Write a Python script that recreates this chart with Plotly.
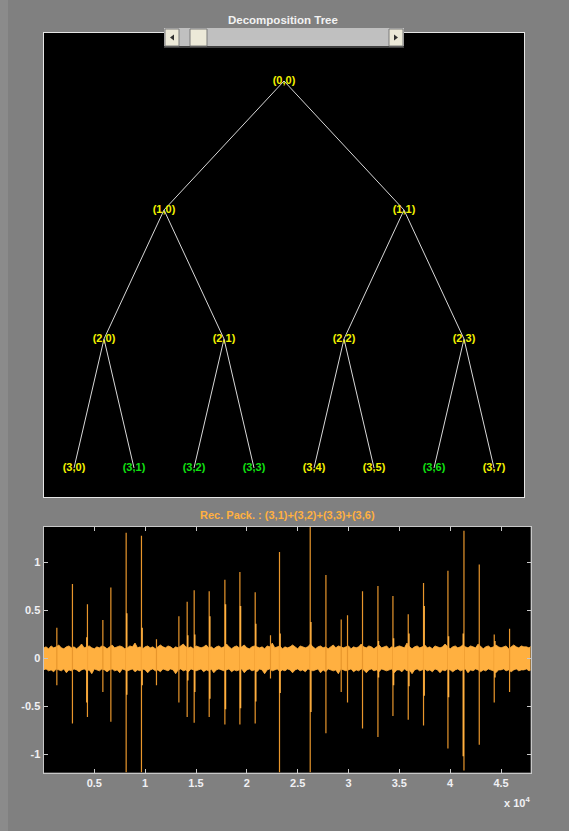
import plotly.graph_objects as go

W, H = 569, 831

# ---------------- data ----------------
# wavelet packet tree (depth, index)
node_depth = [0, 1, 1, 2, 2, 2, 2, 3, 3, 3, 3, 3, 3, 3, 3]
node_index = [0, 0, 1, 0, 1, 2, 3, 0, 1, 2, 3, 4, 5, 6, 7]
selected_nodes = [(3, 1), (3, 2), (3, 3), (3, 6)]
tree_depth = 3

# reconstructed signal: noise envelope (every 250 samples)
env_x = list(range(0, 48001, 250))
env_up = [0.11, 0.12, 0.10, 0.13, 0.11, 0.12, 0.14, 0.11, 0.10, 0.12,
          0.13, 0.11, 0.12, 0.10, 0.12, 0.15, 0.11, 0.12, 0.13, 0.11,
          0.10, 0.12, 0.11, 0.13, 0.12, 0.10, 0.12, 0.14, 0.11, 0.12,
          0.13, 0.12, 0.10, 0.11, 0.13, 0.12, 0.16, 0.11, 0.12, 0.10,
          0.12, 0.13, 0.11, 0.12, 0.10, 0.12, 0.14, 0.12, 0.11, 0.13,
          0.12, 0.10, 0.12, 0.11, 0.13, 0.15, 0.12, 0.11, 0.12, 0.10,
          0.13, 0.12, 0.11, 0.12, 0.14, 0.11, 0.12, 0.10, 0.12, 0.13,
          0.11, 0.12, 0.15, 0.12, 0.10, 0.12, 0.13, 0.11, 0.12, 0.14,
          0.11, 0.10, 0.12, 0.13, 0.12, 0.11, 0.12, 0.10, 0.13, 0.12,
          0.16, 0.11, 0.12, 0.13, 0.10, 0.12, 0.11, 0.12, 0.14, 0.12,
          0.10, 0.13, 0.12, 0.11, 0.12, 0.15, 0.12, 0.10, 0.12, 0.13,
          0.11, 0.12, 0.10, 0.12, 0.14, 0.11, 0.13, 0.12, 0.11, 0.12,
          0.13, 0.10, 0.12, 0.11, 0.12, 0.15, 0.12, 0.11, 0.13, 0.12,
          0.10, 0.12, 0.14, 0.11, 0.12, 0.13, 0.10, 0.12, 0.11, 0.12,
          0.13, 0.12, 0.11, 0.16, 0.12, 0.10, 0.12, 0.13, 0.11, 0.12,
          0.14, 0.11, 0.12, 0.10, 0.13, 0.12, 0.11, 0.12, 0.15, 0.12,
          0.10, 0.12, 0.13, 0.11, 0.12, 0.14, 0.12, 0.11, 0.13, 0.12,
          0.11, 0.15, 0.12, 0.10, 0.12, 0.13, 0.11, 0.12, 0.14, 0.12,
          0.11, 0.12, 0.13, 0.10, 0.12, 0.14, 0.12, 0.11, 0.13, 0.12,
          0.12, 0.11, 0.13]
env_lo = [-0.12, -0.11, -0.13, -0.12, -0.14, -0.11, -0.12, -0.13, -0.11, -0.15,
          -0.12, -0.13, -0.11, -0.12, -0.14, -0.12, -0.11, -0.13, -0.12, -0.16,
          -0.11, -0.12, -0.13, -0.11, -0.12, -0.14, -0.12, -0.11, -0.13, -0.12,
          -0.15, -0.11, -0.12, -0.13, -0.12, -0.11, -0.14, -0.12, -0.13, -0.11,
          -0.12, -0.15, -0.12, -0.11, -0.13, -0.12, -0.14, -0.11, -0.12, -0.13,
          -0.11, -0.12, -0.16, -0.12, -0.11, -0.13, -0.12, -0.14, -0.11, -0.12,
          -0.13, -0.12, -0.11, -0.14, -0.12, -0.13, -0.11, -0.15, -0.12, -0.11,
          -0.12, -0.13, -0.12, -0.11, -0.14, -0.12, -0.13, -0.12, -0.11, -0.15,
          -0.12, -0.11, -0.13, -0.12, -0.14, -0.11, -0.12, -0.16, -0.12, -0.11,
          -0.13, -0.12, -0.11, -0.14, -0.12, -0.13, -0.11, -0.12, -0.15, -0.12,
          -0.11, -0.13, -0.12, -0.14, -0.11, -0.12, -0.13, -0.12, -0.11, -0.15,
          -0.12, -0.14, -0.11, -0.12, -0.13, -0.12, -0.16, -0.11, -0.12, -0.13,
          -0.12, -0.11, -0.14, -0.12, -0.13, -0.11, -0.12, -0.15, -0.12, -0.11,
          -0.13, -0.12, -0.14, -0.11, -0.12, -0.13, -0.12, -0.11, -0.15, -0.12,
          -0.12, -0.14, -0.11, -0.13, -0.12, -0.16, -0.12, -0.11, -0.13, -0.12,
          -0.11, -0.13, -0.12, -0.14, -0.11, -0.12, -0.15, -0.12, -0.13, -0.11,
          -0.12, -0.14, -0.12, -0.11, -0.13, -0.12, -0.11, -0.15, -0.12, -0.13,
          -0.11, -0.12, -0.14, -0.12, -0.13, -0.11, -0.12, -0.13, -0.15, -0.12,
          -0.12, -0.11, -0.13, -0.12, -0.14, -0.12, -0.11, -0.13, -0.12, -0.12,
          -0.11, -0.13, -0.12]

# spikes: position, top value, bottom value
spike_x = [1313, 2848, 4324, 5839, 6626, 8131, 9636, 11112, 13316, 14132,
           14821, 16297, 17841, 19317, 20822, 22327, 23213, 26233, 27778, 29283,
           29903, 31378, 32894, 34369, 35874, 37379, 39779, 41355, 42860, 44334,
           45841]
spike_top = [0.32, 0.775, 0.565, 0.40, 0.74, 1.31, 1.28, 0.20, 0.44, 0.59,
             0.71, 0.70, 0.82, 0.90, 0.69, 0.24, 1.11, 1.37, 0.87, 0.405,
             0.45, 0.70, 0.754, 0.65, 0.46, 0.785, 0.915, 1.33, 0.98, 0.25,
             0.31]
spike_bot = [-0.28, -0.68, -0.61, -0.35, -0.66, -1.19, -1.19, -0.28, -0.46, -0.61,
             -0.67, -0.61, -0.69, -0.69, -0.68, -0.21, -1.19, -1.19, -0.78, -0.35,
             -0.46, -0.73, -0.82, -0.60, -0.64, -0.70, -0.94, -1.17, -0.90, -0.46,
             -0.35]
# shorter companion spikes next to the big ones
spike2_x = [4265, 8190, 9700, 14190, 14880, 16360, 17900, 19380, 20880, 23270,
            26300, 32950, 34430, 35940, 37440, 39840, 41290, 44400]
spike2_top = [0.22, 0.47, 0.32, 0.24, 0.25, 0.44, 0.565, 0.545, 0.36, 0.26,
              0.38, 0.18, 0.21, 0.26, 0.545, 0.23, 0.26, 0.18]
spike2_bot = [-0.46, -0.38, -0.28, -0.23, -0.35, -0.42, -0.53, -0.52, -0.45, -0.36,
              -0.56, -0.20, -0.28, -0.29, -0.39, -0.405, -1.02, -0.20]

x_tick_vals = [5000, 10000, 15000, 20000, 25000, 30000, 35000, 40000, 45000]
x_tick_text = ['0.5', '1', '1.5', '2', '2.5', '3', '3.5', '4', '4.5']
y_tick_vals = [-1, -0.5, 0, 0.5, 1]
y_tick_text = ['-1', '-0.5', '0', '0.5', '1']

tree_title = 'Decomposition Tree'
signal_title = 'Rec. Pack. : (3,1)+(3,2)+(3,3)+(3,6)'

# ---------------- helpers ----------------
def px(x):
    return x / W

def py(y):
    return 1 - y / H

FONT = 'Liberation Sans'
YELLOW = '#f2f200'
GREEN = '#12e012'
ORANGE = '#ffb040'

fig = go.Figure()

# ---------------- tree ----------------
def node_x(d, k):
    return (k + 0.5) * 2 ** (tree_depth - d)

ex, ey = [], []
for d, k in zip(node_depth, node_index):
    if d < tree_depth:
        for c in (2 * k, 2 * k + 1):
            ex += [node_x(d, k), node_x(d + 1, c), None]
            ey += [-d, -(d + 1), None]
fig.add_trace(go.Scatter(x=ex, y=ey, mode='lines', xaxis='x', yaxis='y',
                         line=dict(color='#d8d8d8', width=1), hoverinfo='skip',
                         showlegend=False))

nx = [node_x(d, k) for d, k in zip(node_depth, node_index)]
nyv = [-d for d in node_depth]
ntext = ['(%d,%d)' % (d, k) for d, k in zip(node_depth, node_index)]
ncol = [GREEN if (d, k) in selected_nodes else YELLOW for d, k in zip(node_depth, node_index)]
fig.add_trace(go.Scatter(x=nx, y=nyv, mode='text', text=ntext, xaxis='x', yaxis='y',
                         textposition='middle center',
                         textfont=dict(family=FONT, size=11, color=ncol, weight='bold'),
                         hoverinfo='skip', showlegend=False))

# ---------------- signal ----------------
fig.add_trace(go.Scatter(x=env_x + env_x[::-1], y=env_up + env_lo[::-1],
                         mode='lines', fill='toself', fillcolor=ORANGE,
                         line=dict(color=ORANGE, width=0.8), xaxis='x2', yaxis='y2',
                         hoverinfo='skip', showlegend=False))

sx, sy = [], []
for x, t, b in zip(spike_x, spike_top, spike_bot):
    sx += [x, x, None]
    sy += [t, b, None]
fig.add_trace(go.Scatter(x=sx, y=sy, mode='lines', line=dict(color='#e8962c', width=1.2),
                         xaxis='x2', yaxis='y2', hoverinfo='skip', showlegend=False))
sx2, sy2 = [], []
for x, t, b in zip(spike2_x, spike2_top, spike2_bot):
    sx2 += [x, x, None]
    sy2 += [t, b, None]
fig.add_trace(go.Scatter(x=sx2, y=sy2, mode='lines', line=dict(color=ORANGE, width=1.5),
                         xaxis='x2', yaxis='y2', hoverinfo='skip', showlegend=False))

# ---------------- layout ----------------
tick_font = dict(family=FONT, size=11, color='#f0f0f4', weight='bold')
fig.update_layout(
    width=W, height=H, margin=dict(l=0, r=0, t=0, b=0),
    paper_bgcolor='#808080', plot_bgcolor='#000000',
    showlegend=False,
    xaxis=dict(domain=[px(44), px(524)], range=[0, 8], showticklabels=False,
               ticks='', showgrid=False, zeroline=False, showline=True,
               linecolor='#e6e6e6', linewidth=1, mirror=True, fixedrange=True),
    yaxis=dict(domain=[py(497), py(33)], range=[-3.225, 0.372], showticklabels=False,
               ticks='', showgrid=False, zeroline=False, showline=True,
               linecolor='#e6e6e6', linewidth=1, mirror=True, fixedrange=True),
    xaxis2=dict(domain=[px(44), px(530.5)], range=[50, 47900], anchor='y2',
                tickvals=x_tick_vals, ticktext=x_tick_text, ticks='inside',
                ticklen=4, tickcolor='#c8c8c8', showgrid=False, zeroline=False,
                showline=True, linecolor='#c8c8c8', linewidth=1.5, mirror='ticks',
                tickfont=tick_font),
    yaxis2=dict(domain=[py(772.5), py(527)], range=[-1.19, 1.37], anchor='x2',
                tickvals=y_tick_vals, ticktext=y_tick_text, ticks='inside',
                ticklen=4, tickcolor='#c8c8c8', showgrid=False, zeroline=False,
                showline=True, linecolor='#c8c8c8', linewidth=1.5, mirror='ticks',
                tickfont=tick_font),
)

annotations = [
    dict(text=tree_title, x=px(283), y=py(20), xref='paper', yref='paper',
         showarrow=False, xanchor='center', yanchor='middle',
         font=dict(family=FONT, size=11.5, color='#f2f2f2', weight='bold')),
    dict(text=signal_title, x=px(287), y=py(515), xref='paper', yref='paper',
         showarrow=False, xanchor='center', yanchor='middle',
         font=dict(family=FONT, size=11, color=ORANGE, weight='bold')),
    dict(text='x 10<sup>4</sup>', x=px(532), y=py(802), xref='paper', yref='paper',
         showarrow=False, xanchor='right', yanchor='middle',
         font=dict(family=FONT, size=11, color='#f0f0f4', weight='bold')),
]
fig.update_layout(annotations=annotations)

# slider decoration (window control) and window frame
def rect(x0, y0, x1, y1, fill, line=None, lw=0):
    return dict(type='rect', xref='paper', yref='paper', x0=px(x0), x1=px(x1),
                y0=py(y1), y1=py(y0), fillcolor=fill, layer='above',
                line=dict(color=line or fill, width=lw))

def tri(pts, fill):
    path = 'M ' + ' L '.join('%f %f' % (px(a), py(b)) for a, b in pts) + ' Z'
    return dict(type='path', xref='paper', yref='paper', path=path, fillcolor=fill,
                layer='above', line=dict(color=fill, width=0))

shapes = [
    rect(0, 0, 8, 831, '#8b8b8b'),
    rect(164, 28, 404, 47, '#c0c0c0'),
    rect(164, 46, 404, 48, '#404040'),
    rect(165, 29, 179, 46, '#ece9d8', '#7a7a7a', 1),
    rect(190, 29, 207, 46, '#ece9d8', '#7a7a7a', 1),
    rect(389, 29, 403, 46, '#ece9d8', '#7a7a7a', 1),
    tri([(170, 37.5), (174, 34.5), (174, 40.5)], '#303030'),
    tri([(398, 37.5), (394, 34.5), (394, 40.5)], '#303030'),
]
fig.update_layout(shapes=shapes)

fig.write_html('out.html',
               config={'displayModeBar': False, 'staticPlot': True},
               post_script="document.body.style.margin='0px';"
                           "document.body.style.overflow='hidden';"
                           "document.body.style.background='#808080';")
